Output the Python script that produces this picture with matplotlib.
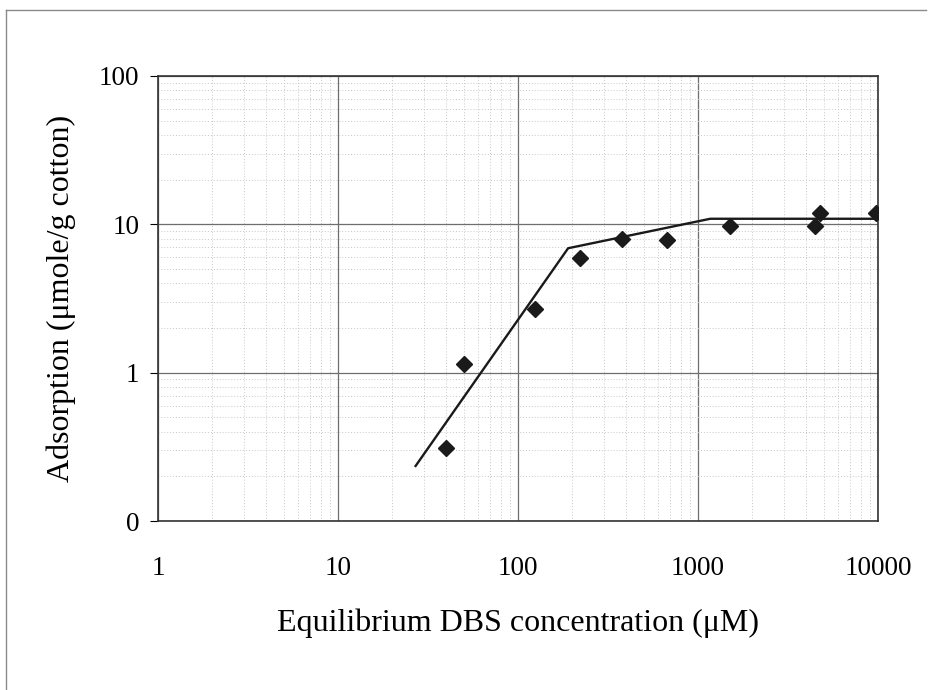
import numpy as np
import matplotlib.pyplot as plt
from matplotlib.ticker import FixedLocator, FixedFormatter, LogLocator, NullFormatter

plt.rcParams['font.family'] = ['Liberation Serif', 'DejaVu Serif']

# measured points: equilibrium DBS concentration (uM) vs adsorption (umole/g cotton)
conc = [40, 50, 124, 221, 378, 673, 1506, 4470, 4760, 9770]
adsorption = [0.31, 1.15, 2.7, 5.9, 8.0, 7.8, 9.7, 9.7, 11.9, 11.9]

# fitted trend line
fit_conc = [27, 190, 1170, 9800]
fit_ads = [0.235, 6.9, 10.9, 10.9]

x_ticks = [1, 10, 100, 1000, 10000]
x_labels = ['1', '10', '100', '1000', '10000']
y_ticks = [0.1, 1, 10, 100]
y_labels = ['0', '1', '10', '100']

fig = plt.figure(figsize=(9.33, 6.90), dpi=100)
ax = fig.add_axes([0.1693, 0.2449, 0.7717, 0.6450])

ax.set_xscale('log')
ax.set_yscale('log')
ax.set_xlim(1, 10000)
ax.set_ylim(0.1, 100)

ax.plot(fit_conc, fit_ads, '-', color='#1a1a1a', linewidth=1.7, zorder=3)
ax.plot(conc, adsorption, 'D', color='#1a1a1a', markersize=8.5, zorder=4)

ax.xaxis.set_major_locator(FixedLocator(x_ticks))
ax.xaxis.set_major_formatter(FixedFormatter(x_labels))
ax.yaxis.set_major_locator(FixedLocator(y_ticks))
ax.yaxis.set_major_formatter(FixedFormatter(y_labels))
ax.xaxis.set_minor_locator(LogLocator(base=10, subs=np.arange(2, 10), numticks=20))
ax.yaxis.set_minor_locator(LogLocator(base=10, subs=np.arange(2, 10), numticks=20))
ax.xaxis.set_minor_formatter(NullFormatter())
ax.yaxis.set_minor_formatter(NullFormatter())

ax.grid(which='major', color='#6e6e6e', linewidth=0.9)
ax.grid(which='minor', color='#c8c8c8', linewidth=0.7, linestyle=(0, (1, 2)))
ax.set_axisbelow(True)

ax.tick_params(axis='x', which='both', length=0, pad=25, labelsize=19.5)
ax.tick_params(axis='y', which='major', length=6, direction='out', pad=7.5, labelsize=19.5)
ax.tick_params(axis='y', which='minor', length=0)

for s in ax.spines.values():
    s.set_color('#333333')
    s.set_linewidth(1.2)

ax.set_xlabel('Equilibrium DBS concentration (\u03bcM)', fontsize=23, labelpad=20)
ax.set_ylabel('Adsorption (\u03bcmole/g cotton)', fontsize=23, labelpad=16)

# page frame lines from the scanned figure
fig.add_artist(plt.Line2D([0.006, 0.992], [0.985, 0.985], color='#8a8a8a', linewidth=1))
fig.add_artist(plt.Line2D([0.006, 0.006], [0.0, 0.985], color='#8a8a8a', linewidth=1))

fig.savefig('out.png', dpi=100)
